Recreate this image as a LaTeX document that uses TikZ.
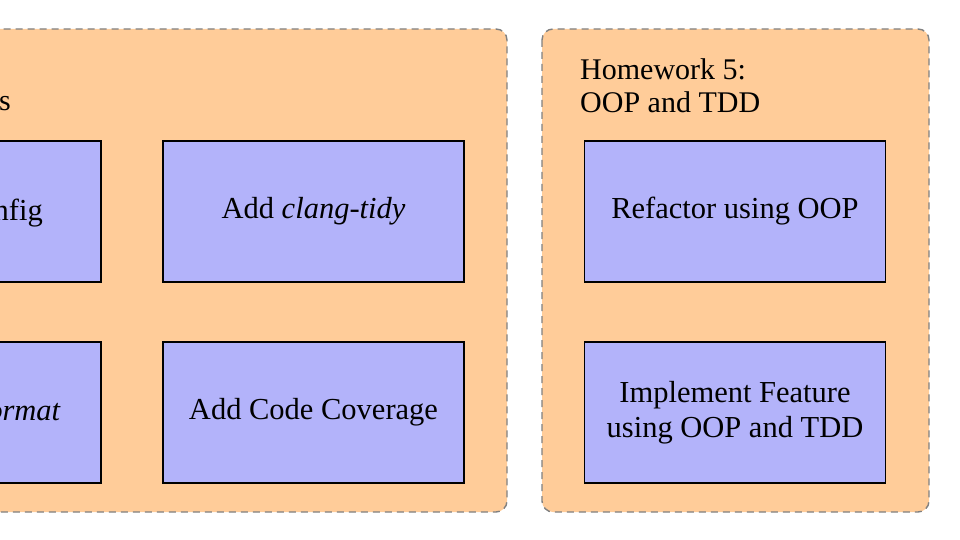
\documentclass[tikz,border=0pt]{standalone}
\usepackage{fontspec}
\setmainfont{Liberation Serif}
\definecolor{groupfill}{RGB}{255,204,153}
\definecolor{taskfill}{RGB}{179,179,250}
\definecolor{groupline}{RGB}{128,128,128}
\begin{document}
\begin{tikzpicture}[x=1pt,y=-1pt,
  groupbox/.style={draw=groupline, fill=groupfill, line width=1.4pt, dash pattern=on 7pt off 5pt, rounded corners=11pt},
  taskbox/.style={draw=black, fill=taskfill, line width=1.8pt, minimum width=301pt, minimum height=141pt, inner sep=0pt, align=center, font=\fontsize{30.5}{35}\selectfont},
  plaintext/.style={inner sep=0pt, font=\fontsize{30}{33}\selectfont, align=left}
]
\useasboundingbox (0,0) rectangle (960,540);
\clip (0,0) rectangle (960,540);
% containers
\draw[groupbox] (-480,29) rectangle (507,512);
\draw[groupbox] (542,29) rectangle (929,512);
% left group (cut off at left edge)
\node[plaintext, anchor=base east] (ltitle) at (11,111) {s};
\node[taskbox] (lta) at (-49.5,211.5) {};
\node[taskbox] (ltb) at (313.5,211.5) {Add \emph{clang-tidy}};
\node[taskbox] (lba) at (-49.5,412.5) {};
\node[taskbox] (lbb) at (313.5,412.5) {Add Code Coverage};
\node[plaintext, anchor=base east, font=\fontsize{30.5}{35}\selectfont] (ltatext) at (43,220) {nfig};
\node[plaintext, anchor=base east, font=\fontsize{30.5}{35}\selectfont] (lbatext) at (61,420) {\emph{ormat}};
% right group
\node[plaintext, anchor=north west] (rtitle) at (580,58) {Homework 5:\\OOP and TDD};
\node[taskbox] (rt) at (735,211.5) {Refactor using OOP};
\node[taskbox] (rb) at (735,412.5) {Implement Feature\\using OOP and TDD};
\end{tikzpicture}
\end{document}
